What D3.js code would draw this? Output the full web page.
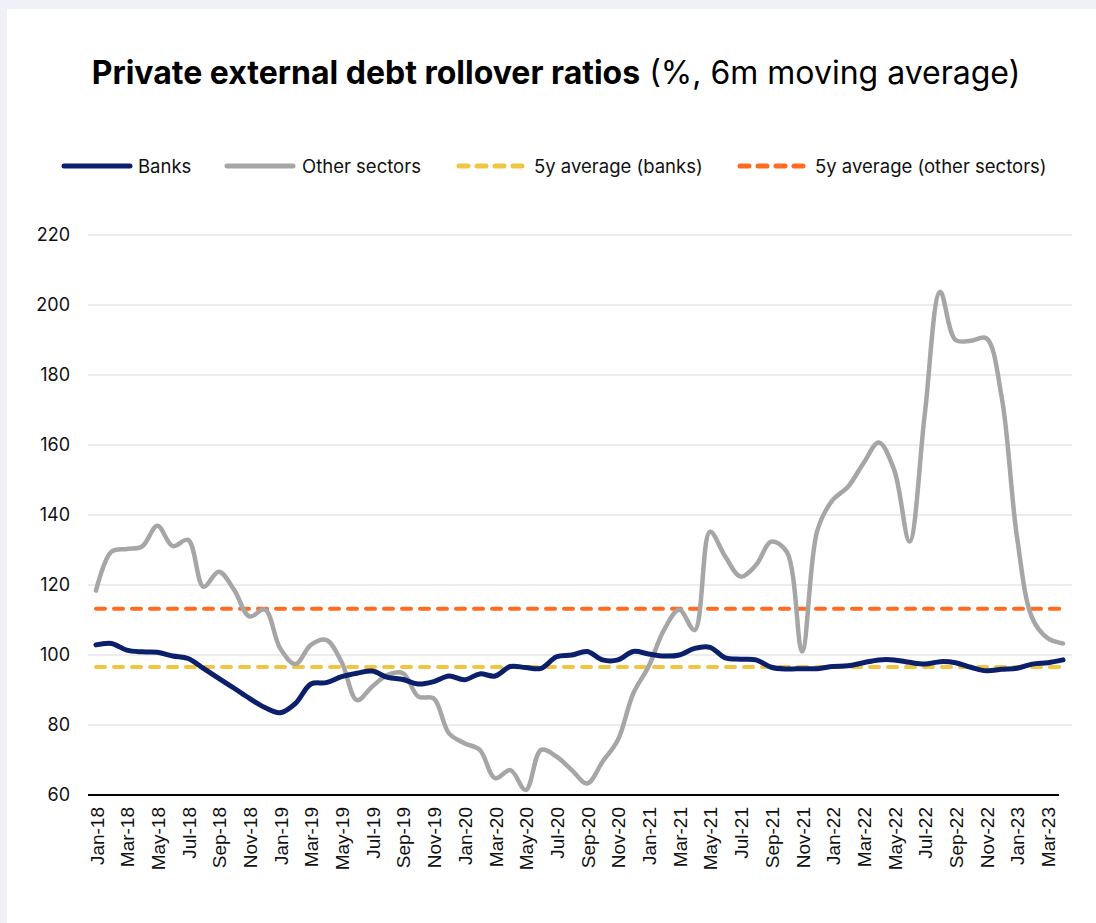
<!DOCTYPE html>
<html><head><meta charset="utf-8">
<script src="https://cdn.jsdelivr.net/npm/d3@7"></script>
<style>
html,body{margin:0;padding:0;background:#eff1f6;}
svg{display:block;}
</style></head>
<body>
<script>
// ---- data ----
const startYear = 2018;
const monthNames = ["Jan","Feb","Mar","Apr","May","Jun","Jul","Aug","Sep","Oct","Nov","Dec"];
const categories = d3.range(64).map(i => monthNames[i % 12] + "-" + String((startYear + Math.floor(i / 12)) % 100).padStart(2, "0"));
const banks = [
 102.9,103.3,101.4,100.9,100.8,99.7,99.0,96.2,93.3,90.5,87.6,85.0,83.5,86.2,91.7,92.1,
 93.8,94.8,95.4,93.6,93.0,91.7,92.4,94.0,92.9,94.6,94.0,96.7,96.4,96.2,99.5,100.0,
 101.0,98.6,98.6,101.0,100.3,99.7,100.0,101.9,102.2,99.2,98.8,98.6,96.5,96.0,96.1,96.1,
 96.7,96.9,97.8,98.6,98.6,97.9,97.4,98.1,97.8,96.5,95.5,95.9,96.2,97.4,97.8,98.6
];
const otherSectors = [
 118.4,129.5,130.3,131.0,136.9,131.1,132.9,119.5,123.8,118.6,111.0,113.0,101.9,97.4,102.9,104.3,
 98.0,87.1,91.0,94.3,94.8,88.1,87.6,77.6,74.8,72.9,64.8,67.1,61.4,72.9,71.0,67.1,
 63.3,69.5,75.7,89.0,96.7,107.1,112.9,107.1,135.2,128.1,122.4,125.7,132.4,129.5,101.0,135.7,
 144.3,148.1,154.8,160.7,152.9,132.4,169.0,203.8,190.0,189.8,190.5,173.8,133.8,110.5,104.8,103.3
];
const avgBanks = 96.6;
const avgOther = 113.2;
const yTicks = [60,80,100,120,140,160,180,200,220];
const xTickLabels = categories.filter((d, i) => i % 2 === 0);
const seriesNames = ["Banks","Other sectors","5y average (banks)","5y average (other sectors)"];
const colors = {banks:"#0b1f6b", other:"#a6a6a6", avgB:"#f0c541", avgO:"#ff6b21"};

// ---- layout ----
const W = 1096, H = 923;
const svg = d3.select("body").append("svg").attr("width", W).attr("height", H);
svg.append("rect").attr("x", 7).attr("y", 9).attr("width", W - 7).attr("height", H - 9).attr("fill", "#ffffff");

const x = d3.scalePoint().domain(categories).range([96, 1063]);
const y = d3.scaleLinear().domain([60, 220]).range([795, 235]);

// title
const title = svg.append("text").attr("x", 556).attr("y", 84).attr("text-anchor", "middle")
  .attr("font-family", "Inter, 'Noto Sans', sans-serif").attr("font-size", 32).attr("fill", "#000");
title.append("tspan").attr("font-weight", 700).text("Private external debt rollover ratios");
title.append("tspan").attr("font-weight", 400).text(" (%, 6m moving average)");

// gridlines
const grid = svg.append("g");
grid.selectAll("line").data(yTicks.filter(t => t > 60)).join("line")
  .attr("x1", 88).attr("x2", 1072).attr("y1", d => y(d)).attr("y2", d => y(d))
  .attr("stroke", "#d9d9d9").attr("stroke-width", 1);

// y axis labels
const yAxis = d3.axisLeft(y).tickValues(yTicks).tickSize(0).tickPadding(0);
const gy = svg.append("g").attr("transform", "translate(70,0)").call(yAxis);
gy.select(".domain").remove();
gy.selectAll("text").attr("font-family", "Inter, 'Noto Sans', sans-serif").attr("font-size", 18).attr("fill", "#111");

// x axis
const xAxis = d3.axisBottom(x).tickValues(xTickLabels).tickSize(0).tickPadding(0);
const gx = svg.append("g").attr("transform", "translate(0,795)").call(xAxis);
gx.select(".domain").remove();
gx.selectAll("text").attr("font-family", "'Liberation Sans', Arial, sans-serif").attr("font-size", 19).attr("fill", "#111")
  .attr("text-anchor", "end").attr("dy", null).attr("y", 0)
  .attr("transform", "translate(7,12) rotate(-90)");
svg.append("line").attr("x1", 88).attr("x2", 1059).attr("y1", 795).attr("y2", 795).attr("stroke", "#000").attr("stroke-width", 2);

// lines
const line = d3.line().x((d, i) => x(categories[i])).y(d => y(d)).curve(d3.curveCatmullRom.alpha(0.5));
const plot = svg.append("g");
plot.append("path").attr("d", line(categories.map(() => avgBanks))).attr("fill", "none")
  .attr("stroke", colors.avgB).attr("stroke-width", 4).attr("stroke-dasharray", "9 9").attr("stroke-linecap", "round");
plot.append("path").attr("d", line(categories.map(() => avgOther))).attr("fill", "none")
  .attr("stroke", colors.avgO).attr("stroke-width", 4).attr("stroke-dasharray", "9 9").attr("stroke-linecap", "round");
plot.append("path").attr("d", line(otherSectors)).attr("fill", "none")
  .attr("stroke", colors.other).attr("stroke-width", 4.5).attr("stroke-linecap", "round").attr("stroke-linejoin", "round");
plot.append("path").attr("d", line(banks)).attr("fill", "none")
  .attr("stroke", colors.banks).attr("stroke-width", 5).attr("stroke-linecap", "round").attr("stroke-linejoin", "round");

// legend
const legendItems = [
  {name: seriesNames[0], color: colors.banks, dash: null, x0: 64, tx: 138},
  {name: seriesNames[1], color: colors.other, dash: null, x0: 227, tx: 302},
  {name: seriesNames[2], color: colors.avgB, dash: "9 9", x0: 459, tx: 534},
  {name: seriesNames[3], color: colors.avgO, dash: "9 9", x0: 740, tx: 815}
];
const lg = svg.append("g");
legendItems.forEach(it => {
  lg.append("line").attr("x1", it.x0).attr("x2", it.x0 + 66).attr("y1", 166).attr("y2", 166)
    .attr("stroke", it.color).attr("stroke-width", 5).attr("stroke-linecap", "round")
    .attr("stroke-dasharray", it.dash);
  lg.append("text").attr("x", it.tx).attr("y", 172.5).attr("font-family", "Inter, 'Noto Sans', sans-serif")
    .attr("font-size", 18.5).attr("fill", "#111").text(it.name);
});
</script>
</body></html>
